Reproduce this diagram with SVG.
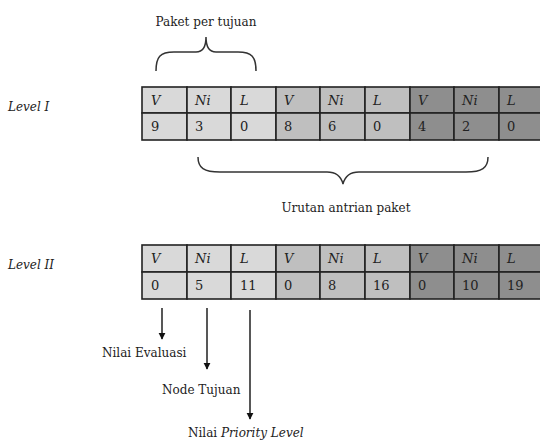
<svg xmlns="http://www.w3.org/2000/svg" width="540" height="441" viewBox="0 0 540 441">
<defs>
<style>
text{font-family:"DejaVu Serif",serif;fill:#222;}
.lbl{font-size:12px;}
.it{font-style:italic;}
.c{font-size:13px;}
.g1{fill:#d9d9d9;}
.g2{fill:#bfbfbf;}
.g3{fill:#8e8e8e;}
.cell rect{stroke:#222;stroke-width:1.6;}
.brace{fill:none;stroke:#333;stroke-width:1.5;}
.arr{stroke:#111;stroke-width:1.4;fill:none;marker-end:url(#ah);}
</style>
<marker id="ah" viewBox="0 0 10 10" refX="9" refY="5" markerWidth="7" markerHeight="8" markerUnits="userSpaceOnUse" orient="auto">
<path d="M0,0 L10,5 L0,10 z" fill="#111"/>
</marker>
</defs>
<rect width="540" height="441" fill="#fff"/>

<g id="label-paket">
<text class="lbl" x="206" y="26" text-anchor="middle">Paket per tujuan</text>
<path class="brace" d="M156,71 C156,57 160,52 174,52 L196,52 C203,52 206,47 206,37 C206,47 209,52 216,52 L238,52 C252,52 256,57 256,71"/>
</g>

<g id="level1-label"><text class="lbl it" x="8" y="111">Level I</text></g>

<g id="level1-table" class="cell">
<rect class="g1" x="142" y="87" width="45" height="26"/>
<rect class="g1" x="187" y="87" width="44" height="26"/>
<rect class="g1" x="231" y="87" width="45" height="26"/>
<rect class="g2" x="276" y="87" width="44" height="26"/>
<rect class="g2" x="320" y="87" width="45" height="26"/>
<rect class="g2" x="365" y="87" width="45" height="26"/>
<rect class="g3" x="410" y="87" width="44" height="26"/>
<rect class="g3" x="454" y="87" width="45" height="26"/>
<rect class="g3" x="499" y="87" width="45" height="26"/>
<rect class="g1" x="142" y="113" width="45" height="27"/>
<rect class="g1" x="187" y="113" width="44" height="27"/>
<rect class="g1" x="231" y="113" width="45" height="27"/>
<rect class="g2" x="276" y="113" width="44" height="27"/>
<rect class="g2" x="320" y="113" width="45" height="27"/>
<rect class="g2" x="365" y="113" width="45" height="27"/>
<rect class="g3" x="410" y="113" width="44" height="27"/>
<rect class="g3" x="454" y="113" width="45" height="27"/>
<rect class="g3" x="499" y="113" width="45" height="27"/>
<text class="c it" x="151" y="105">V</text>
<text class="c it" x="195" y="105">Ni</text>
<text class="c it" x="240" y="105">L</text>
<text class="c it" x="284" y="105">V</text>
<text class="c it" x="328" y="105">Ni</text>
<text class="c it" x="373" y="105">L</text>
<text class="c it" x="418" y="105">V</text>
<text class="c it" x="462" y="105">Ni</text>
<text class="c it" x="507" y="105">L</text>
<text class="c" x="151" y="131">9</text>
<text class="c" x="195" y="131">3</text>
<text class="c" x="240" y="131">0</text>
<text class="c" x="284" y="131">8</text>
<text class="c" x="328" y="131">6</text>
<text class="c" x="373" y="131">0</text>
<text class="c" x="418" y="131">4</text>
<text class="c" x="462" y="131">2</text>
<text class="c" x="507" y="131">0</text>
</g>

<g id="label-urutan">
<path class="brace" d="M198,157 C198,168 204,172 220,172 L327,172 C336,172 341,176 343,184 C345,176 350,172 359,172 L466,172 C482,172 488,168 488,157"/>
<text class="lbl" x="346" y="212" text-anchor="middle">Urutan antrian paket</text>
</g>

<g id="level2-label"><text class="lbl it" x="8" y="269">Level II</text></g>

<g id="level2-table" class="cell">
<rect class="g1" x="142" y="245" width="45" height="27"/>
<rect class="g1" x="187" y="245" width="44" height="27"/>
<rect class="g1" x="231" y="245" width="45" height="27"/>
<rect class="g2" x="276" y="245" width="44" height="27"/>
<rect class="g2" x="320" y="245" width="45" height="27"/>
<rect class="g2" x="365" y="245" width="45" height="27"/>
<rect class="g3" x="410" y="245" width="44" height="27"/>
<rect class="g3" x="454" y="245" width="45" height="27"/>
<rect class="g3" x="499" y="245" width="45" height="27"/>
<rect class="g1" x="142" y="272" width="45" height="27"/>
<rect class="g1" x="187" y="272" width="44" height="27"/>
<rect class="g1" x="231" y="272" width="45" height="27"/>
<rect class="g2" x="276" y="272" width="44" height="27"/>
<rect class="g2" x="320" y="272" width="45" height="27"/>
<rect class="g2" x="365" y="272" width="45" height="27"/>
<rect class="g3" x="410" y="272" width="44" height="27"/>
<rect class="g3" x="454" y="272" width="45" height="27"/>
<rect class="g3" x="499" y="272" width="45" height="27"/>
<text class="c it" x="151" y="263">V</text>
<text class="c it" x="195" y="263">Ni</text>
<text class="c it" x="240" y="263">L</text>
<text class="c it" x="284" y="263">V</text>
<text class="c it" x="328" y="263">Ni</text>
<text class="c it" x="373" y="263">L</text>
<text class="c it" x="418" y="263">V</text>
<text class="c it" x="462" y="263">Ni</text>
<text class="c it" x="507" y="263">L</text>
<text class="c" x="151" y="290">0</text>
<text class="c" x="195" y="290">5</text>
<text class="c" x="240" y="290">11</text>
<text class="c" x="284" y="290">0</text>
<text class="c" x="328" y="290">8</text>
<text class="c" x="373" y="290">16</text>
<text class="c" x="418" y="290">0</text>
<text class="c" x="462" y="290">10</text>
<text class="c" x="507" y="290">19</text>
</g>

<g id="connectors">
<line class="arr" x1="162" y1="308" x2="162" y2="339"/>
<line class="arr" x1="207" y1="308" x2="207" y2="369"/>
<line class="arr" x1="250" y1="310" x2="250" y2="419"/>
</g>

<g id="label-evaluasi"><text class="lbl" x="102" y="357">Nilai Evaluasi</text></g>
<g id="label-node"><text class="lbl" x="162" y="394">Node Tujuan</text></g>
<g id="label-priority"><text class="lbl" x="188" y="437">Nilai <tspan class="it">Priority Level</tspan></text></g>
</svg>
